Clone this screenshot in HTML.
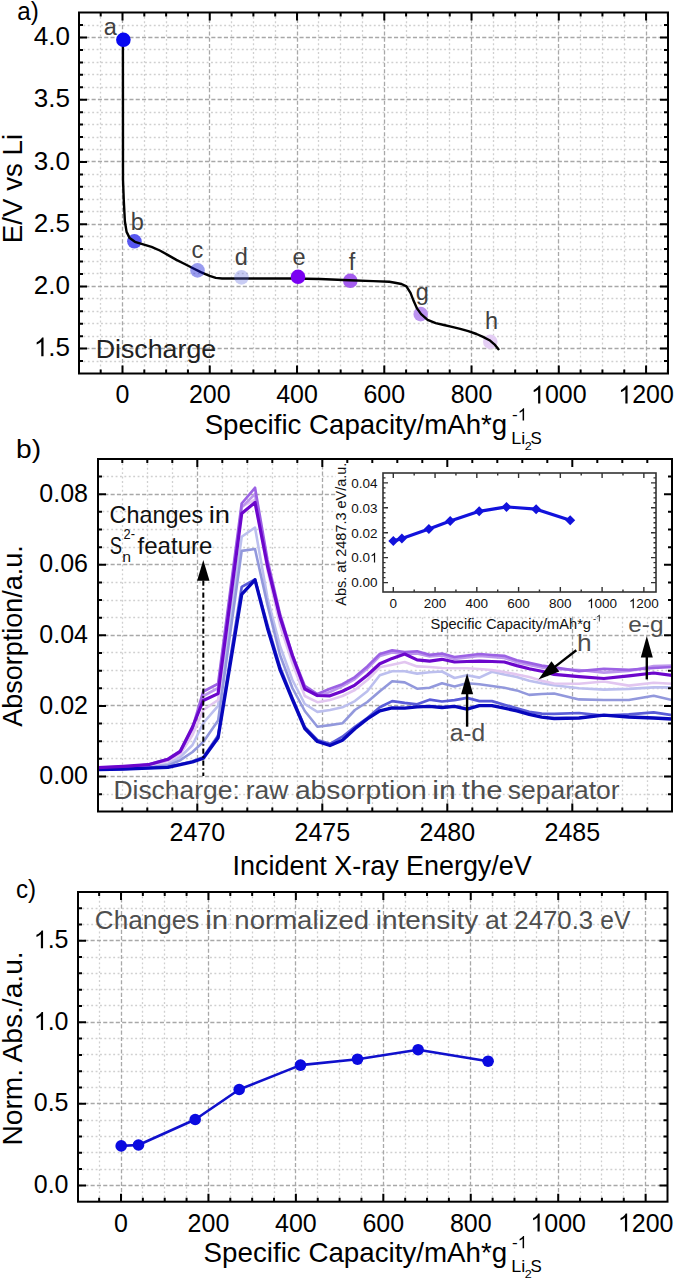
<!DOCTYPE html>
<html><head><meta charset="utf-8"><style>
html,body{margin:0;padding:0;background:#fff;}
svg{display:block;}
text{font-family:"Liberation Sans", sans-serif;}
</style></head><body>
<svg width="675" height="1280" viewBox="0 0 675 1280">
<rect width="675" height="1280" fill="#fff"/>
<line x1="100.5" y1="12.5" x2="100.5" y2="373.5" stroke="#d0d0d0" stroke-width="1.3" stroke-dasharray="1.9 2.5"/>
<line x1="144.5" y1="12.5" x2="144.5" y2="373.5" stroke="#d0d0d0" stroke-width="1.3" stroke-dasharray="1.9 2.5"/>
<line x1="166.5" y1="12.5" x2="166.5" y2="373.5" stroke="#d0d0d0" stroke-width="1.3" stroke-dasharray="1.9 2.5"/>
<line x1="187.5" y1="12.5" x2="187.5" y2="373.5" stroke="#d0d0d0" stroke-width="1.3" stroke-dasharray="1.9 2.5"/>
<line x1="231.5" y1="12.5" x2="231.5" y2="373.5" stroke="#d0d0d0" stroke-width="1.3" stroke-dasharray="1.9 2.5"/>
<line x1="253.5" y1="12.5" x2="253.5" y2="373.5" stroke="#d0d0d0" stroke-width="1.3" stroke-dasharray="1.9 2.5"/>
<line x1="275.5" y1="12.5" x2="275.5" y2="373.5" stroke="#d0d0d0" stroke-width="1.3" stroke-dasharray="1.9 2.5"/>
<line x1="318.5" y1="12.5" x2="318.5" y2="373.5" stroke="#d0d0d0" stroke-width="1.3" stroke-dasharray="1.9 2.5"/>
<line x1="340.5" y1="12.5" x2="340.5" y2="373.5" stroke="#d0d0d0" stroke-width="1.3" stroke-dasharray="1.9 2.5"/>
<line x1="362.5" y1="12.5" x2="362.5" y2="373.5" stroke="#d0d0d0" stroke-width="1.3" stroke-dasharray="1.9 2.5"/>
<line x1="406.5" y1="12.5" x2="406.5" y2="373.5" stroke="#d0d0d0" stroke-width="1.3" stroke-dasharray="1.9 2.5"/>
<line x1="427.5" y1="12.5" x2="427.5" y2="373.5" stroke="#d0d0d0" stroke-width="1.3" stroke-dasharray="1.9 2.5"/>
<line x1="449.5" y1="12.5" x2="449.5" y2="373.5" stroke="#d0d0d0" stroke-width="1.3" stroke-dasharray="1.9 2.5"/>
<line x1="493.5" y1="12.5" x2="493.5" y2="373.5" stroke="#d0d0d0" stroke-width="1.3" stroke-dasharray="1.9 2.5"/>
<line x1="515.5" y1="12.5" x2="515.5" y2="373.5" stroke="#d0d0d0" stroke-width="1.3" stroke-dasharray="1.9 2.5"/>
<line x1="536.5" y1="12.5" x2="536.5" y2="373.5" stroke="#d0d0d0" stroke-width="1.3" stroke-dasharray="1.9 2.5"/>
<line x1="580.5" y1="12.5" x2="580.5" y2="373.5" stroke="#d0d0d0" stroke-width="1.3" stroke-dasharray="1.9 2.5"/>
<line x1="602.5" y1="12.5" x2="602.5" y2="373.5" stroke="#d0d0d0" stroke-width="1.3" stroke-dasharray="1.9 2.5"/>
<line x1="624.5" y1="12.5" x2="624.5" y2="373.5" stroke="#d0d0d0" stroke-width="1.3" stroke-dasharray="1.9 2.5"/>
<line x1="79" y1="361.5" x2="668" y2="361.5" stroke="#d0d0d0" stroke-width="1.3" stroke-dasharray="1.9 2.5"/>
<line x1="79" y1="336.5" x2="668" y2="336.5" stroke="#d0d0d0" stroke-width="1.3" stroke-dasharray="1.9 2.5"/>
<line x1="79" y1="323.5" x2="668" y2="323.5" stroke="#d0d0d0" stroke-width="1.3" stroke-dasharray="1.9 2.5"/>
<line x1="79" y1="311.5" x2="668" y2="311.5" stroke="#d0d0d0" stroke-width="1.3" stroke-dasharray="1.9 2.5"/>
<line x1="79" y1="298.5" x2="668" y2="298.5" stroke="#d0d0d0" stroke-width="1.3" stroke-dasharray="1.9 2.5"/>
<line x1="79" y1="273.5" x2="668" y2="273.5" stroke="#d0d0d0" stroke-width="1.3" stroke-dasharray="1.9 2.5"/>
<line x1="79" y1="261.5" x2="668" y2="261.5" stroke="#d0d0d0" stroke-width="1.3" stroke-dasharray="1.9 2.5"/>
<line x1="79" y1="249.5" x2="668" y2="249.5" stroke="#d0d0d0" stroke-width="1.3" stroke-dasharray="1.9 2.5"/>
<line x1="79" y1="236.5" x2="668" y2="236.5" stroke="#d0d0d0" stroke-width="1.3" stroke-dasharray="1.9 2.5"/>
<line x1="79" y1="211.5" x2="668" y2="211.5" stroke="#d0d0d0" stroke-width="1.3" stroke-dasharray="1.9 2.5"/>
<line x1="79" y1="199.5" x2="668" y2="199.5" stroke="#d0d0d0" stroke-width="1.3" stroke-dasharray="1.9 2.5"/>
<line x1="79" y1="186.5" x2="668" y2="186.5" stroke="#d0d0d0" stroke-width="1.3" stroke-dasharray="1.9 2.5"/>
<line x1="79" y1="174.5" x2="668" y2="174.5" stroke="#d0d0d0" stroke-width="1.3" stroke-dasharray="1.9 2.5"/>
<line x1="79" y1="149.5" x2="668" y2="149.5" stroke="#d0d0d0" stroke-width="1.3" stroke-dasharray="1.9 2.5"/>
<line x1="79" y1="137.5" x2="668" y2="137.5" stroke="#d0d0d0" stroke-width="1.3" stroke-dasharray="1.9 2.5"/>
<line x1="79" y1="124.5" x2="668" y2="124.5" stroke="#d0d0d0" stroke-width="1.3" stroke-dasharray="1.9 2.5"/>
<line x1="79" y1="112.5" x2="668" y2="112.5" stroke="#d0d0d0" stroke-width="1.3" stroke-dasharray="1.9 2.5"/>
<line x1="79" y1="87.5" x2="668" y2="87.5" stroke="#d0d0d0" stroke-width="1.3" stroke-dasharray="1.9 2.5"/>
<line x1="79" y1="74.5" x2="668" y2="74.5" stroke="#d0d0d0" stroke-width="1.3" stroke-dasharray="1.9 2.5"/>
<line x1="79" y1="62.5" x2="668" y2="62.5" stroke="#d0d0d0" stroke-width="1.3" stroke-dasharray="1.9 2.5"/>
<line x1="79" y1="49.5" x2="668" y2="49.5" stroke="#d0d0d0" stroke-width="1.3" stroke-dasharray="1.9 2.5"/>
<line x1="79" y1="25.5" x2="668" y2="25.5" stroke="#d0d0d0" stroke-width="1.3" stroke-dasharray="1.9 2.5"/>
<line x1="122.5" y1="12.5" x2="122.5" y2="373.5" stroke="#a8a8a8" stroke-width="1.3" stroke-dasharray="4.1 2.2"/>
<line x1="209.5" y1="12.5" x2="209.5" y2="373.5" stroke="#a8a8a8" stroke-width="1.3" stroke-dasharray="4.1 2.2"/>
<line x1="297.5" y1="12.5" x2="297.5" y2="373.5" stroke="#a8a8a8" stroke-width="1.3" stroke-dasharray="4.1 2.2"/>
<line x1="384.5" y1="12.5" x2="384.5" y2="373.5" stroke="#a8a8a8" stroke-width="1.3" stroke-dasharray="4.1 2.2"/>
<line x1="471.5" y1="12.5" x2="471.5" y2="373.5" stroke="#a8a8a8" stroke-width="1.3" stroke-dasharray="4.1 2.2"/>
<line x1="558.5" y1="12.5" x2="558.5" y2="373.5" stroke="#a8a8a8" stroke-width="1.3" stroke-dasharray="4.1 2.2"/>
<line x1="646.5" y1="12.5" x2="646.5" y2="373.5" stroke="#a8a8a8" stroke-width="1.3" stroke-dasharray="4.1 2.2"/>
<line x1="79" y1="348.5" x2="668" y2="348.5" stroke="#a8a8a8" stroke-width="1.3" stroke-dasharray="4.1 2.2"/>
<line x1="79" y1="286.5" x2="668" y2="286.5" stroke="#a8a8a8" stroke-width="1.3" stroke-dasharray="4.1 2.2"/>
<line x1="79" y1="224.5" x2="668" y2="224.5" stroke="#a8a8a8" stroke-width="1.3" stroke-dasharray="4.1 2.2"/>
<line x1="79" y1="161.5" x2="668" y2="161.5" stroke="#a8a8a8" stroke-width="1.3" stroke-dasharray="4.1 2.2"/>
<line x1="79" y1="99.5" x2="668" y2="99.5" stroke="#a8a8a8" stroke-width="1.3" stroke-dasharray="4.1 2.2"/>
<line x1="79" y1="37.5" x2="668" y2="37.5" stroke="#a8a8a8" stroke-width="1.3" stroke-dasharray="4.1 2.2"/>
<line x1="122.5" y1="459" x2="122.5" y2="811.5" stroke="#d0d0d0" stroke-width="1.3" stroke-dasharray="1.9 2.5"/>
<line x1="147.5" y1="459" x2="147.5" y2="811.5" stroke="#d0d0d0" stroke-width="1.3" stroke-dasharray="1.9 2.5"/>
<line x1="172.5" y1="459" x2="172.5" y2="811.5" stroke="#d0d0d0" stroke-width="1.3" stroke-dasharray="1.9 2.5"/>
<line x1="222.5" y1="459" x2="222.5" y2="811.5" stroke="#d0d0d0" stroke-width="1.3" stroke-dasharray="1.9 2.5"/>
<line x1="247.5" y1="459" x2="247.5" y2="811.5" stroke="#d0d0d0" stroke-width="1.3" stroke-dasharray="1.9 2.5"/>
<line x1="272.5" y1="459" x2="272.5" y2="811.5" stroke="#d0d0d0" stroke-width="1.3" stroke-dasharray="1.9 2.5"/>
<line x1="297.5" y1="459" x2="297.5" y2="811.5" stroke="#d0d0d0" stroke-width="1.3" stroke-dasharray="1.9 2.5"/>
<line x1="347.5" y1="459" x2="347.5" y2="811.5" stroke="#d0d0d0" stroke-width="1.3" stroke-dasharray="1.9 2.5"/>
<line x1="372.5" y1="459" x2="372.5" y2="811.5" stroke="#d0d0d0" stroke-width="1.3" stroke-dasharray="1.9 2.5"/>
<line x1="397.5" y1="459" x2="397.5" y2="811.5" stroke="#d0d0d0" stroke-width="1.3" stroke-dasharray="1.9 2.5"/>
<line x1="422.5" y1="459" x2="422.5" y2="811.5" stroke="#d0d0d0" stroke-width="1.3" stroke-dasharray="1.9 2.5"/>
<line x1="472.5" y1="459" x2="472.5" y2="811.5" stroke="#d0d0d0" stroke-width="1.3" stroke-dasharray="1.9 2.5"/>
<line x1="497.5" y1="459" x2="497.5" y2="811.5" stroke="#d0d0d0" stroke-width="1.3" stroke-dasharray="1.9 2.5"/>
<line x1="522.5" y1="459" x2="522.5" y2="811.5" stroke="#d0d0d0" stroke-width="1.3" stroke-dasharray="1.9 2.5"/>
<line x1="547.5" y1="459" x2="547.5" y2="811.5" stroke="#d0d0d0" stroke-width="1.3" stroke-dasharray="1.9 2.5"/>
<line x1="597.5" y1="459" x2="597.5" y2="811.5" stroke="#d0d0d0" stroke-width="1.3" stroke-dasharray="1.9 2.5"/>
<line x1="622.5" y1="459" x2="622.5" y2="811.5" stroke="#d0d0d0" stroke-width="1.3" stroke-dasharray="1.9 2.5"/>
<line x1="647.5" y1="459" x2="647.5" y2="811.5" stroke="#d0d0d0" stroke-width="1.3" stroke-dasharray="1.9 2.5"/>
<line x1="98" y1="794.5" x2="672" y2="794.5" stroke="#d0d0d0" stroke-width="1.3" stroke-dasharray="1.9 2.5"/>
<line x1="98" y1="758.5" x2="672" y2="758.5" stroke="#d0d0d0" stroke-width="1.3" stroke-dasharray="1.9 2.5"/>
<line x1="98" y1="741.5" x2="672" y2="741.5" stroke="#d0d0d0" stroke-width="1.3" stroke-dasharray="1.9 2.5"/>
<line x1="98" y1="723.5" x2="672" y2="723.5" stroke="#d0d0d0" stroke-width="1.3" stroke-dasharray="1.9 2.5"/>
<line x1="98" y1="688.5" x2="672" y2="688.5" stroke="#d0d0d0" stroke-width="1.3" stroke-dasharray="1.9 2.5"/>
<line x1="98" y1="670.5" x2="672" y2="670.5" stroke="#d0d0d0" stroke-width="1.3" stroke-dasharray="1.9 2.5"/>
<line x1="98" y1="652.5" x2="672" y2="652.5" stroke="#d0d0d0" stroke-width="1.3" stroke-dasharray="1.9 2.5"/>
<line x1="98" y1="617.5" x2="672" y2="617.5" stroke="#d0d0d0" stroke-width="1.3" stroke-dasharray="1.9 2.5"/>
<line x1="98" y1="600.5" x2="672" y2="600.5" stroke="#d0d0d0" stroke-width="1.3" stroke-dasharray="1.9 2.5"/>
<line x1="98" y1="582.5" x2="672" y2="582.5" stroke="#d0d0d0" stroke-width="1.3" stroke-dasharray="1.9 2.5"/>
<line x1="98" y1="547.5" x2="672" y2="547.5" stroke="#d0d0d0" stroke-width="1.3" stroke-dasharray="1.9 2.5"/>
<line x1="98" y1="529.5" x2="672" y2="529.5" stroke="#d0d0d0" stroke-width="1.3" stroke-dasharray="1.9 2.5"/>
<line x1="98" y1="511.5" x2="672" y2="511.5" stroke="#d0d0d0" stroke-width="1.3" stroke-dasharray="1.9 2.5"/>
<line x1="98" y1="476.5" x2="672" y2="476.5" stroke="#d0d0d0" stroke-width="1.3" stroke-dasharray="1.9 2.5"/>
<line x1="197.5" y1="459" x2="197.5" y2="811.5" stroke="#a8a8a8" stroke-width="1.3" stroke-dasharray="4.1 2.2"/>
<line x1="322.5" y1="459" x2="322.5" y2="811.5" stroke="#a8a8a8" stroke-width="1.3" stroke-dasharray="4.1 2.2"/>
<line x1="447.5" y1="459" x2="447.5" y2="811.5" stroke="#a8a8a8" stroke-width="1.3" stroke-dasharray="4.1 2.2"/>
<line x1="572.5" y1="459" x2="572.5" y2="811.5" stroke="#a8a8a8" stroke-width="1.3" stroke-dasharray="4.1 2.2"/>
<line x1="98" y1="776.5" x2="672" y2="776.5" stroke="#a8a8a8" stroke-width="1.3" stroke-dasharray="4.1 2.2"/>
<line x1="98" y1="705.5" x2="672" y2="705.5" stroke="#a8a8a8" stroke-width="1.3" stroke-dasharray="4.1 2.2"/>
<line x1="98" y1="635.5" x2="672" y2="635.5" stroke="#a8a8a8" stroke-width="1.3" stroke-dasharray="4.1 2.2"/>
<line x1="98" y1="564.5" x2="672" y2="564.5" stroke="#a8a8a8" stroke-width="1.3" stroke-dasharray="4.1 2.2"/>
<line x1="98" y1="494.5" x2="672" y2="494.5" stroke="#a8a8a8" stroke-width="1.3" stroke-dasharray="4.1 2.2"/>
<line x1="99.5" y1="892" x2="99.5" y2="1201.7" stroke="#d0d0d0" stroke-width="1.3" stroke-dasharray="1.9 2.5"/>
<line x1="142.5" y1="892" x2="142.5" y2="1201.7" stroke="#d0d0d0" stroke-width="1.3" stroke-dasharray="1.9 2.5"/>
<line x1="164.5" y1="892" x2="164.5" y2="1201.7" stroke="#d0d0d0" stroke-width="1.3" stroke-dasharray="1.9 2.5"/>
<line x1="186.5" y1="892" x2="186.5" y2="1201.7" stroke="#d0d0d0" stroke-width="1.3" stroke-dasharray="1.9 2.5"/>
<line x1="230.5" y1="892" x2="230.5" y2="1201.7" stroke="#d0d0d0" stroke-width="1.3" stroke-dasharray="1.9 2.5"/>
<line x1="252.5" y1="892" x2="252.5" y2="1201.7" stroke="#d0d0d0" stroke-width="1.3" stroke-dasharray="1.9 2.5"/>
<line x1="274.5" y1="892" x2="274.5" y2="1201.7" stroke="#d0d0d0" stroke-width="1.3" stroke-dasharray="1.9 2.5"/>
<line x1="317.5" y1="892" x2="317.5" y2="1201.7" stroke="#d0d0d0" stroke-width="1.3" stroke-dasharray="1.9 2.5"/>
<line x1="339.5" y1="892" x2="339.5" y2="1201.7" stroke="#d0d0d0" stroke-width="1.3" stroke-dasharray="1.9 2.5"/>
<line x1="361.5" y1="892" x2="361.5" y2="1201.7" stroke="#d0d0d0" stroke-width="1.3" stroke-dasharray="1.9 2.5"/>
<line x1="405.5" y1="892" x2="405.5" y2="1201.7" stroke="#d0d0d0" stroke-width="1.3" stroke-dasharray="1.9 2.5"/>
<line x1="427.5" y1="892" x2="427.5" y2="1201.7" stroke="#d0d0d0" stroke-width="1.3" stroke-dasharray="1.9 2.5"/>
<line x1="448.5" y1="892" x2="448.5" y2="1201.7" stroke="#d0d0d0" stroke-width="1.3" stroke-dasharray="1.9 2.5"/>
<line x1="492.5" y1="892" x2="492.5" y2="1201.7" stroke="#d0d0d0" stroke-width="1.3" stroke-dasharray="1.9 2.5"/>
<line x1="514.5" y1="892" x2="514.5" y2="1201.7" stroke="#d0d0d0" stroke-width="1.3" stroke-dasharray="1.9 2.5"/>
<line x1="536.5" y1="892" x2="536.5" y2="1201.7" stroke="#d0d0d0" stroke-width="1.3" stroke-dasharray="1.9 2.5"/>
<line x1="580.5" y1="892" x2="580.5" y2="1201.7" stroke="#d0d0d0" stroke-width="1.3" stroke-dasharray="1.9 2.5"/>
<line x1="601.5" y1="892" x2="601.5" y2="1201.7" stroke="#d0d0d0" stroke-width="1.3" stroke-dasharray="1.9 2.5"/>
<line x1="623.5" y1="892" x2="623.5" y2="1201.7" stroke="#d0d0d0" stroke-width="1.3" stroke-dasharray="1.9 2.5"/>
<line x1="78" y1="1169.5" x2="667.5" y2="1169.5" stroke="#d0d0d0" stroke-width="1.3" stroke-dasharray="1.9 2.5"/>
<line x1="78" y1="1152.5" x2="667.5" y2="1152.5" stroke="#d0d0d0" stroke-width="1.3" stroke-dasharray="1.9 2.5"/>
<line x1="78" y1="1136.5" x2="667.5" y2="1136.5" stroke="#d0d0d0" stroke-width="1.3" stroke-dasharray="1.9 2.5"/>
<line x1="78" y1="1120.5" x2="667.5" y2="1120.5" stroke="#d0d0d0" stroke-width="1.3" stroke-dasharray="1.9 2.5"/>
<line x1="78" y1="1087.5" x2="667.5" y2="1087.5" stroke="#d0d0d0" stroke-width="1.3" stroke-dasharray="1.9 2.5"/>
<line x1="78" y1="1071.5" x2="667.5" y2="1071.5" stroke="#d0d0d0" stroke-width="1.3" stroke-dasharray="1.9 2.5"/>
<line x1="78" y1="1054.5" x2="667.5" y2="1054.5" stroke="#d0d0d0" stroke-width="1.3" stroke-dasharray="1.9 2.5"/>
<line x1="78" y1="1038.5" x2="667.5" y2="1038.5" stroke="#d0d0d0" stroke-width="1.3" stroke-dasharray="1.9 2.5"/>
<line x1="78" y1="1005.5" x2="667.5" y2="1005.5" stroke="#d0d0d0" stroke-width="1.3" stroke-dasharray="1.9 2.5"/>
<line x1="78" y1="989.5" x2="667.5" y2="989.5" stroke="#d0d0d0" stroke-width="1.3" stroke-dasharray="1.9 2.5"/>
<line x1="78" y1="973.5" x2="667.5" y2="973.5" stroke="#d0d0d0" stroke-width="1.3" stroke-dasharray="1.9 2.5"/>
<line x1="78" y1="957.5" x2="667.5" y2="957.5" stroke="#d0d0d0" stroke-width="1.3" stroke-dasharray="1.9 2.5"/>
<line x1="78" y1="924.5" x2="667.5" y2="924.5" stroke="#d0d0d0" stroke-width="1.3" stroke-dasharray="1.9 2.5"/>
<line x1="78" y1="908.5" x2="667.5" y2="908.5" stroke="#d0d0d0" stroke-width="1.3" stroke-dasharray="1.9 2.5"/>
<line x1="121.5" y1="892" x2="121.5" y2="1201.7" stroke="#a8a8a8" stroke-width="1.3" stroke-dasharray="4.1 2.2"/>
<line x1="208.5" y1="892" x2="208.5" y2="1201.7" stroke="#a8a8a8" stroke-width="1.3" stroke-dasharray="4.1 2.2"/>
<line x1="295.5" y1="892" x2="295.5" y2="1201.7" stroke="#a8a8a8" stroke-width="1.3" stroke-dasharray="4.1 2.2"/>
<line x1="383.5" y1="892" x2="383.5" y2="1201.7" stroke="#a8a8a8" stroke-width="1.3" stroke-dasharray="4.1 2.2"/>
<line x1="470.5" y1="892" x2="470.5" y2="1201.7" stroke="#a8a8a8" stroke-width="1.3" stroke-dasharray="4.1 2.2"/>
<line x1="558.5" y1="892" x2="558.5" y2="1201.7" stroke="#a8a8a8" stroke-width="1.3" stroke-dasharray="4.1 2.2"/>
<line x1="645.5" y1="892" x2="645.5" y2="1201.7" stroke="#a8a8a8" stroke-width="1.3" stroke-dasharray="4.1 2.2"/>
<line x1="78" y1="1185.5" x2="667.5" y2="1185.5" stroke="#a8a8a8" stroke-width="1.3" stroke-dasharray="4.1 2.2"/>
<line x1="78" y1="1103.5" x2="667.5" y2="1103.5" stroke="#a8a8a8" stroke-width="1.3" stroke-dasharray="4.1 2.2"/>
<line x1="78" y1="1022.5" x2="667.5" y2="1022.5" stroke="#a8a8a8" stroke-width="1.3" stroke-dasharray="4.1 2.2"/>
<line x1="78" y1="940.5" x2="667.5" y2="940.5" stroke="#a8a8a8" stroke-width="1.3" stroke-dasharray="4.1 2.2"/>
<circle cx="134.4" cy="241.3" r="7.3" fill="#5858f0"/>
<circle cx="350.3" cy="280.8" r="7.3" fill="#a45cee"/>
<circle cx="420.7" cy="314.1" r="7.3" fill="#bc94f0"/>
<circle cx="490.3" cy="341.8" r="7.3" fill="#e4cef4"/>
<polyline points="122.9,39.8 123,180 123.8,200.7 124.9,221.5 126.6,231.9 129.7,238.1 134.9,241.8 143.2,244.3 151.5,246.8 159.8,250.5 168.1,255.1 176.4,259.9 184.7,264 193,268.2 201.3,272.3 209.6,275.8 215.8,277.9 222,278.5 250,278.5 293.3,278.5 320,279 349.3,280.3 373.3,281.1 389.3,281.7 395,282.7 401.5,284 406.4,286.4 410.5,292.9 413.7,301.1 417,308.4 421.1,314.1 427.6,319.8 435.7,323.1 443.9,325 452,326.8 460.2,328.8 468.3,331.2 476.5,334 483,336.9 489.5,340.2 494.4,344.3 498.5,349.2" fill="none" stroke="#000" stroke-width="2.4" stroke-linejoin="round" stroke-linecap="round"/>
<circle cx="123.4" cy="39.8" r="7.3" fill="#0808f0" fill-opacity="1.0"/>
<circle cx="197.5" cy="270.4" r="7.3" fill="#0a10d8" fill-opacity="0.42"/>
<circle cx="241.5" cy="277.4" r="7.3" fill="#616ddf" fill-opacity="0.35"/>
<circle cx="298" cy="276.8" r="7.3" fill="#7a00f2" fill-opacity="1.0"/>
<text x="110.3" y="35.3" font-size="23.5" fill="#404040" text-anchor="middle">a</text>
<text x="137.4" y="229.9" font-size="23.5" fill="#404040" text-anchor="middle">b</text>
<text x="197.4" y="258.3" font-size="23.5" fill="#404040" text-anchor="middle">c</text>
<text x="241.3" y="264.9" font-size="23.5" fill="#404040" text-anchor="middle">d</text>
<text x="299" y="265" font-size="23.5" fill="#404040" text-anchor="middle">e</text>
<text x="352" y="270.3" font-size="23.5" fill="#404040" text-anchor="middle">f</text>
<text x="422.3" y="300.3" font-size="23.5" fill="#404040" text-anchor="middle">g</text>
<text x="491.6" y="328.8" font-size="23.5" fill="#404040" text-anchor="middle">h</text>
<text x="95.7" y="357.9" font-size="25" fill="#222" textLength="120.48" lengthAdjust="spacingAndGlyphs">Discharge</text>
<polyline points="121.2,1145.9 138.5,1145 195.2,1119.5 239.2,1089.5 300.5,1065.1 357.5,1059.2 418.1,1049.7 488.1,1061.2" fill="none" stroke="#1010cc" stroke-width="2.6" stroke-linejoin="round" stroke-linecap="round"/>
<circle cx="121.2" cy="1145.9" r="5.8" fill="#0a0ae0"/>
<circle cx="138.5" cy="1145" r="5.8" fill="#0a0ae0"/>
<circle cx="195.2" cy="1119.5" r="5.8" fill="#0a0ae0"/>
<circle cx="239.2" cy="1089.5" r="5.8" fill="#0a0ae0"/>
<circle cx="300.5" cy="1065.1" r="5.8" fill="#0a0ae0"/>
<circle cx="357.5" cy="1059.2" r="5.8" fill="#0a0ae0"/>
<circle cx="418.1" cy="1049.7" r="5.8" fill="#0a0ae0"/>
<circle cx="488.1" cy="1061.2" r="5.8" fill="#0a0ae0"/>
<text x="94.77" y="928.7" font-size="26" fill="#4e4e4e" textLength="104.57" lengthAdjust="spacingAndGlyphs">Changes</text>
<text x="205.32" y="928.7" font-size="26" fill="#4e4e4e" textLength="23" lengthAdjust="spacingAndGlyphs">in</text>
<text x="234.37" y="928.7" font-size="26" fill="#4e4e4e" textLength="134.7" lengthAdjust="spacingAndGlyphs">normalized</text>
<text x="375.73" y="928.7" font-size="26" fill="#4e4e4e" textLength="102.52" lengthAdjust="spacingAndGlyphs">intensity</text>
<text x="485.07" y="928.7" font-size="26" fill="#4e4e4e" textLength="22.23" lengthAdjust="spacingAndGlyphs">at</text>
<text x="514.3" y="928.7" font-size="26" fill="#4e4e4e" textLength="78.83" lengthAdjust="spacingAndGlyphs">2470.3</text>
<text x="600.26" y="928.7" font-size="26" fill="#4e4e4e" textLength="30.05" lengthAdjust="spacingAndGlyphs">eV</text>
<path transform="translate(33.86,356.3) scale(0.01270,-0.01270)" d="M763 0L583 0L583 1147Q518 1085 412 1023Q306 961 221 930L221 1104Q372 1175 485 1276Q598 1377 645 1472L763 1472Z" fill="#000"/>
<text x="48.32" y="356.3" font-size="26" fill="#000">.5</text>
<text x="70" y="294.08" font-size="26" fill="#000" text-anchor="end">2.0</text>
<text x="70" y="231.86" font-size="26" fill="#000" text-anchor="end">2.5</text>
<text x="70" y="169.64" font-size="26" fill="#000" text-anchor="end">3.0</text>
<text x="70" y="107.42" font-size="26" fill="#000" text-anchor="end">3.5</text>
<text x="70" y="45.2" font-size="26" fill="#000" text-anchor="end">4.0</text>
<text x="122.5" y="403.4" font-size="25" fill="#000" text-anchor="middle">0</text>
<text x="209.76" y="403.4" font-size="25" fill="#000" text-anchor="middle">200</text>
<text x="297.02" y="403.4" font-size="25" fill="#000" text-anchor="middle">400</text>
<text x="384.28" y="403.4" font-size="25" fill="#000" text-anchor="middle">600</text>
<text x="471.54" y="403.4" font-size="25" fill="#000" text-anchor="middle">800</text>
<path transform="translate(530.99,403.4) scale(0.01221,-0.01221)" d="M763 0L583 0L583 1147Q518 1085 412 1023Q306 961 221 930L221 1104Q372 1175 485 1276Q598 1377 645 1472L763 1472Z" fill="#000"/>
<text x="544.9" y="403.4" font-size="25" fill="#000">000</text>
<path transform="translate(618.25,403.4) scale(0.01221,-0.01221)" d="M763 0L583 0L583 1147Q518 1085 412 1023Q306 961 221 930L221 1104Q372 1175 485 1276Q598 1377 645 1472L763 1472Z" fill="#000"/>
<text x="632.16" y="403.4" font-size="25" fill="#000">200</text>
<text x="88" y="784.1" font-size="25" fill="#000" text-anchor="end">0.00</text>
<text x="88" y="713.52" font-size="25" fill="#000" text-anchor="end">0.02</text>
<text x="88" y="642.95" font-size="25" fill="#000" text-anchor="end">0.04</text>
<text x="88" y="572.38" font-size="25" fill="#000" text-anchor="end">0.06</text>
<text x="88" y="501.8" font-size="25" fill="#000" text-anchor="end">0.08</text>
<text x="197.3" y="841" font-size="25" fill="#000" text-anchor="middle">2470</text>
<text x="322.3" y="841" font-size="25" fill="#000" text-anchor="middle">2475</text>
<text x="447.3" y="841" font-size="25" fill="#000" text-anchor="middle">2480</text>
<text x="572.3" y="841" font-size="25" fill="#000" text-anchor="middle">2485</text>
<text x="68.5" y="1193" font-size="25" fill="#000" text-anchor="end">0.0</text>
<text x="68.5" y="1111.45" font-size="25" fill="#000" text-anchor="end">0.5</text>
<path transform="translate(33.75,1029.9) scale(0.01221,-0.01221)" d="M763 0L583 0L583 1147Q518 1085 412 1023Q306 961 221 930L221 1104Q372 1175 485 1276Q598 1377 645 1472L763 1472Z" fill="#000"/>
<text x="47.65" y="1029.9" font-size="25" fill="#000">.0</text>
<path transform="translate(33.75,948.35) scale(0.01221,-0.01221)" d="M763 0L583 0L583 1147Q518 1085 412 1023Q306 961 221 930L221 1104Q372 1175 485 1276Q598 1377 645 1472L763 1472Z" fill="#000"/>
<text x="47.65" y="948.35" font-size="25" fill="#000">.5</text>
<text x="121" y="1231.5" font-size="25" fill="#000" text-anchor="middle">0</text>
<text x="208.44" y="1231.5" font-size="25" fill="#000" text-anchor="middle">200</text>
<text x="295.88" y="1231.5" font-size="25" fill="#000" text-anchor="middle">400</text>
<text x="383.32" y="1231.5" font-size="25" fill="#000" text-anchor="middle">600</text>
<text x="470.76" y="1231.5" font-size="25" fill="#000" text-anchor="middle">800</text>
<path transform="translate(530.39,1231.5) scale(0.01221,-0.01221)" d="M763 0L583 0L583 1147Q518 1085 412 1023Q306 961 221 930L221 1104Q372 1175 485 1276Q598 1377 645 1472L763 1472Z" fill="#000"/>
<text x="544.3" y="1231.5" font-size="25" fill="#000">000</text>
<path transform="translate(617.83,1231.5) scale(0.01221,-0.01221)" d="M763 0L583 0L583 1147Q518 1085 412 1023Q306 961 221 930L221 1104Q372 1175 485 1276Q598 1377 645 1472L763 1472Z" fill="#000"/>
<text x="631.74" y="1231.5" font-size="25" fill="#000">200</text>
<text x="17.27" y="20" font-size="26" fill="#000" textLength="21.53" lengthAdjust="spacingAndGlyphs">a)</text>
<text x="15.98" y="458.2" font-size="26.5" fill="#000" textLength="25.06" lengthAdjust="spacingAndGlyphs">b)</text>
<text x="15.97" y="897.8" font-size="26" fill="#000" textLength="20.12" lengthAdjust="spacingAndGlyphs">c)</text>
<text transform="translate(21.6,240.9) rotate(-90)" x="-2.27" font-size="28.5" textLength="109.24" lengthAdjust="spacingAndGlyphs">E/V vs Li</text>
<text transform="translate(21.6,726.7) rotate(-90)" x="-0.05" font-size="28.5" textLength="181.42" lengthAdjust="spacingAndGlyphs">Absorption/a.u.</text>
<text transform="translate(21.6,1143.3) rotate(-90)" x="-2.29" font-size="28.5" textLength="194.25" lengthAdjust="spacingAndGlyphs">Norm. Abs./a.u.</text>
<text x="204.65" y="433.8" font-size="27.5" fill="#000" textLength="302.54" lengthAdjust="spacingAndGlyphs">Specific Capacity/mAh*g</text>
<text x="512.1" y="420.4" font-size="17" fill="#000">-</text>
<path transform="translate(517.76,420.4) scale(0.00830,-0.00830)" d="M763 0L583 0L583 1147Q518 1085 412 1023Q306 961 221 930L221 1104Q372 1175 485 1276Q598 1377 645 1472L763 1472Z" fill="#000"/>
<text x="511.23" y="443.9" font-size="16.5" fill="#000" textLength="13.98" lengthAdjust="spacingAndGlyphs">Li</text>
<text x="524.77" y="449.5" font-size="11" fill="#000" textLength="6.96" lengthAdjust="spacingAndGlyphs">2</text>
<text x="530.63" y="443.9" font-size="16.5" fill="#000" textLength="11.24" lengthAdjust="spacingAndGlyphs">S</text>
<text x="203.64" y="1262.2" font-size="27.5" fill="#000" textLength="303.55" lengthAdjust="spacingAndGlyphs">Specific Capacity/mAh*g</text>
<text x="512.1" y="1248.2" font-size="17" fill="#000">-</text>
<path transform="translate(517.76,1248.2) scale(0.00830,-0.00830)" d="M763 0L583 0L583 1147Q518 1085 412 1023Q306 961 221 930L221 1104Q372 1175 485 1276Q598 1377 645 1472L763 1472Z" fill="#000"/>
<text x="511.23" y="1271.5" font-size="16.5" fill="#000" textLength="13.98" lengthAdjust="spacingAndGlyphs">Li</text>
<text x="524.77" y="1277.6" font-size="11" fill="#000" textLength="6.96" lengthAdjust="spacingAndGlyphs">2</text>
<text x="530.63" y="1271.5" font-size="16.5" fill="#000" textLength="11.24" lengthAdjust="spacingAndGlyphs">S</text>
<text x="232.62" y="875.4" font-size="27" fill="#000" textLength="299.1" lengthAdjust="spacingAndGlyphs">Incident X-ray Energy/eV</text>
<g clip-path="url(#clipB)">
<polyline points="98,768.5 123.4,767.8 148.3,766.5 167.9,764 180.3,757 192.5,745 203.3,723 218.1,705.8 241.7,536.7 255,527.5 267.5,598 280,646 292.4,680 304.8,704 317.4,711.9 330,710 342.4,707.3 354.9,701.1 367.3,691.3 379.8,675.3 392.2,671.2 404.7,671.2 417.1,673.6 429.6,672.3 442,671.5 454.5,678 467,675.3 479.4,677.6 491.9,671.8 504.3,674.4 516.8,677.1 529.2,680.7 541.7,683.3 554.1,685.3 579,688.3 603.9,689.6 628.8,688.9 653.7,687.4 672,687.4" fill="none" stroke="#bcbfee" stroke-width="2.6" stroke-linejoin="round" stroke-linecap="round" stroke-linecap="butt"/>
<polyline points="98,768.8 123.4,768.2 148.3,767 167.9,765.6 180.3,760.2 192.5,752 203.3,741.9 218.1,720.6 241.7,550.9 255,549 267.5,605 280,655 292.4,688 304.8,711 317.4,726.7 330,725.1 342.4,723.3 354.9,710 367.3,702 379.8,691.3 392.2,681.2 404.7,682.4 417.1,688.7 429.6,687.8 442,683.2 454.5,686.5 467,683.3 479.4,684.2 491.9,686 504.3,687.8 516.8,690.4 529.2,694.9 541.7,694 554.1,693.5 579,699.4 603.9,700 628.8,700 653.7,695.7 672,700" fill="none" stroke="#9298dc" stroke-width="2.6" stroke-linejoin="round" stroke-linecap="round" stroke-linecap="butt"/>
<polyline points="98,768 123.4,767.5 148.3,765.5 167.9,761 180.3,754 192.5,735 203.3,710 218.1,700 241.7,506.7 255,499.6 267.5,570 280,625 292.4,663 304.8,696 317.4,702.2 330,700 342.4,696 354.9,690 367.3,680 379.8,667.3 392.2,664.7 404.7,662 417.1,666.4 429.6,667 442,668 454.5,668.2 467,668.2 479.4,669 491.9,670 504.3,672 516.8,674.4 529.2,677.1 541.7,680.7 554.1,683.5 579,683.7 603.9,681.5 628.8,685.6 653.7,682.8 672,683.7" fill="none" stroke="#e2c6f0" stroke-width="2.6" stroke-linejoin="round" stroke-linecap="round" stroke-linecap="butt"/>
<polyline points="98,767.6 123.4,767 148.3,765 167.9,760 180.3,752 192.5,729 203.3,696 218.1,688 241.7,507.3 255,494 267.5,565 280,618 292.4,658 304.8,688 317.4,696 330,692 342.4,686 354.9,679 367.3,668.5 379.8,656 392.2,652.5 404.7,654 417.1,653.5 429.6,656.5 442,655.5 454.5,659 467,657.5 479.4,656 491.9,657 504.3,658 516.8,662.2 529.2,665 541.7,667.6 554.1,669 579,670 603.9,672.6 628.8,671 653.7,666.1 672,665.5" fill="none" stroke="#bc96ec" stroke-width="2.6" stroke-linejoin="round" stroke-linecap="round" stroke-linecap="butt"/>
<polyline points="98,767.5 123.4,766.8 148.3,764.5 167.9,759 180.3,751 192.5,728 203.3,691.5 218.1,683.8 241.7,503.5 255,487.8 267.5,560 280,614 292.4,655 304.8,686 317.4,694.1 330,688.7 342.4,684.2 354.9,677.1 367.3,666.4 379.8,654 392.2,650.4 404.7,652.2 417.1,651.3 429.6,654.9 442,653.5 454.5,657 467,655.5 479.4,654 491.9,655 504.3,655.8 516.8,660.2 529.2,662.9 541.7,665.6 554.1,667.3 579,671.1 603.9,668.9 628.8,669.8 653.7,668 672,667" fill="none" stroke="#9c62e4" stroke-width="2.7" stroke-linejoin="round" stroke-linecap="round" stroke-linecap="butt"/>
<polyline points="98,769.3 123.4,768.9 148.3,767.9 167.9,766.9 180.3,764.2 192.5,761.3 203.3,757.2 218.1,735.5 241.7,586.9 255,579.5 267.5,625 280,667 292.4,698 304.8,727 317.4,740 330,743.8 342.4,736.7 354.9,726.9 367.3,718 379.8,707.3 392.2,701.1 404.7,702.9 417.1,704.3 429.6,699.7 442,701.5 454.5,700.2 467,697.9 479.4,701.1 491.9,701.1 504.3,704.7 516.8,708.2 529.2,711.8 541.7,713.6 554.1,713.8 579,713 603.9,715.6 628.8,714.3 653.7,712.4 672,715.2" fill="none" stroke="#5a5cd8" stroke-width="2.7" stroke-linejoin="round" stroke-linecap="round" stroke-linecap="butt"/>
<polyline points="98,769.6 123.4,769.1 148.3,768.2 167.9,767.3 180.3,764.7 192.5,762 203.3,758.3 218.1,737.8 241.7,594.4 255,579.8 267.5,628.2 280,669.6 292.4,699.5 304.8,728.5 317.4,741.5 330,745.5 342.4,740.2 354.9,728.7 367.3,718.9 379.8,710.9 392.2,707.9 404.7,708.2 417.1,706.8 429.6,706.4 442,707.5 454.5,706.4 467,709.1 479.4,705.6 491.9,705.6 504.3,708.2 516.8,710.9 529.2,714.4 541.7,717.1 554.1,718.5 579,718 603.9,715.2 628.8,717 653.7,718 672,719" fill="none" stroke="#0606bc" stroke-width="3.3" stroke-linejoin="round" stroke-linecap="round" stroke-linecap="butt"/>
<polyline points="98,767.7 123.4,766.4 148.3,764.7 167.9,759.3 180.3,751.3 192.5,727 203.3,700.5 218.1,693.6 241.7,513.5 255,502.4 267.5,566 280,617 292.4,655.5 304.8,689 317.4,695.5 330,695.8 342.4,691.3 354.9,685.1 367.3,675.3 379.8,663.8 392.2,658.4 404.7,654 417.1,659.9 429.6,661.1 442,659.3 454.5,662 467,661.5 479.4,661.1 491.9,661.5 504.3,662 516.8,665.6 529.2,668.8 541.7,671.2 554.1,674.4 579,676.7 603.9,678.5 628.8,675.9 653.7,673 672,675.4" fill="none" stroke="#6c06cc" stroke-width="3.2" stroke-linejoin="round" stroke-linecap="round" stroke-linecap="butt"/>
</g>
<defs><clipPath id="clipB"><rect x="98" y="459" width="574" height="352.5"/></clipPath></defs>
<text x="109.61" y="522.5" font-size="24" fill="#111" textLength="93.53" lengthAdjust="spacingAndGlyphs">Changes</text>
<text x="208.77" y="522.5" font-size="24" fill="#111" textLength="21.31" lengthAdjust="spacingAndGlyphs">in</text>
<text x="109.86" y="553.8" font-size="24.5" fill="#111" textLength="12.28" lengthAdjust="spacingAndGlyphs">S</text>
<text x="123.55" y="538.7" font-size="14" fill="#111" textLength="11.42" lengthAdjust="spacingAndGlyphs">2-</text>
<text x="122.25" y="562.2" font-size="14" fill="#111" textLength="8.77" lengthAdjust="spacingAndGlyphs">n</text>
<text x="137.56" y="553.8" font-size="24" fill="#111" textLength="74.91" lengthAdjust="spacingAndGlyphs">feature</text>
<line x1="203.3" y1="580.6" x2="203.3" y2="776" stroke="#000" stroke-width="2" stroke-dasharray="5.1 2.6 1.5 2.8"/>
<path d="M203.3 559.9 L197.1 580.8 L209.5 580.8 Z" fill="#000"/>
<text x="113.43" y="799.3" font-size="26.5" fill="#4e4e4e" textLength="126.38" lengthAdjust="spacingAndGlyphs">Discharge:</text>
<text x="245.74" y="799.3" font-size="26.5" fill="#4e4e4e" textLength="42.59" lengthAdjust="spacingAndGlyphs">raw</text>
<text x="294.9" y="799.3" font-size="26.5" fill="#4e4e4e" textLength="131.93" lengthAdjust="spacingAndGlyphs">absorption</text>
<text x="432.37" y="799.3" font-size="26.5" fill="#4e4e4e" textLength="23.6" lengthAdjust="spacingAndGlyphs">in</text>
<text x="461.76" y="799.3" font-size="26.5" fill="#4e4e4e" textLength="40.85" lengthAdjust="spacingAndGlyphs">the</text>
<text x="507.86" y="799.3" font-size="26.5" fill="#4e4e4e" textLength="111.78" lengthAdjust="spacingAndGlyphs">separator</text>
<line x1="467.1" y1="726.7" x2="467.1" y2="692.3" stroke="#000" stroke-width="2.4"/>
<path d="M467.1 673.3L473.1 694.3L461.1 694.3Z" fill="#000"/>
<line x1="646.8" y1="679.4" x2="646.8" y2="655.4" stroke="#000" stroke-width="2.4"/>
<path d="M646.8 636.1L652.8 657.4L640.8 657.4Z" fill="#000"/>
<line x1="576.3" y1="650.3" x2="553.83" y2="667.67" stroke="#000" stroke-width="2.4"/>
<path d="M538.4 679.6L551.43 661.31L559.39 671.59Z" fill="#000"/>
<text x="449.66" y="740.7" font-size="23" fill="#4e4e4e" textLength="35.53" lengthAdjust="spacingAndGlyphs">a-d</text>
<text x="577.08" y="650.7" font-size="24" fill="#4e4e4e" textLength="14.63" lengthAdjust="spacingAndGlyphs">h</text>
<text x="628.27" y="632.2" font-size="22" fill="#4e4e4e" textLength="35.2" lengthAdjust="spacingAndGlyphs">e-g</text>
<rect x="336" y="460" width="335" height="156" fill="#fff"/>
<polyline points="393.3,540.9 401.9,538.6 428.9,529.1 450.2,521.1 479.2,511.3 506.5,506.9 536.1,509.2 570.2,520.2" fill="none" stroke="#1212dc" stroke-width="3.2" stroke-linejoin="round" stroke-linecap="round"/>
<path d="M393.3 535.9L398.3 540.9L393.3 545.9L388.3 540.9Z" fill="#1212dc"/>
<path d="M401.9 533.6L406.9 538.6L401.9 543.6L396.9 538.6Z" fill="#1212dc"/>
<path d="M428.9 524.1L433.9 529.1L428.9 534.1L423.9 529.1Z" fill="#1212dc"/>
<path d="M450.2 516.1L455.2 521.1L450.2 526.1L445.2 521.1Z" fill="#1212dc"/>
<path d="M479.2 506.3L484.2 511.3L479.2 516.3L474.2 511.3Z" fill="#1212dc"/>
<path d="M506.5 501.9L511.5 506.9L506.5 511.9L501.5 506.9Z" fill="#1212dc"/>
<path d="M536.1 504.2L541.1 509.2L536.1 514.2L531.1 509.2Z" fill="#1212dc"/>
<path d="M570.2 515.2L575.2 520.2L570.2 525.2L565.2 520.2Z" fill="#1212dc"/>
<path d="M393.3 592v-5M393.3 473v5M435.06 592v-5M435.06 473v5M476.82 592v-5M476.82 473v5M518.58 592v-5M518.58 473v5M560.34 592v-5M560.34 473v5M602.1 592v-5M602.1 473v5M643.86 592v-5M643.86 473v5M414.18 592v-2.5M414.18 473v2.5M455.94 592v-2.5M455.94 473v2.5M497.7 592v-2.5M497.7 473v2.5M539.46 592v-2.5M539.46 473v2.5M581.22 592v-2.5M581.22 473v2.5M622.98 592v-2.5M622.98 473v2.5M383 582.6h5M656 582.6h-5M383 557.67h5M656 557.67h-5M383 532.74h5M656 532.74h-5M383 507.81h5M656 507.81h-5M383 482.88h5M656 482.88h-5M383 577.61h2.5M656 577.61h-2.5M383 572.63h2.5M656 572.63h-2.5M383 567.64h2.5M656 567.64h-2.5M383 562.66h2.5M656 562.66h-2.5M383 552.68h2.5M656 552.68h-2.5M383 547.7h2.5M656 547.7h-2.5M383 542.71h2.5M656 542.71h-2.5M383 537.73h2.5M656 537.73h-2.5M383 527.75h2.5M656 527.75h-2.5M383 522.77h2.5M656 522.77h-2.5M383 517.78h2.5M656 517.78h-2.5M383 512.8h2.5M656 512.8h-2.5M383 502.82h2.5M656 502.82h-2.5M383 497.84h2.5M656 497.84h-2.5M383 492.85h2.5M656 492.85h-2.5M383 487.87h2.5M656 487.87h-2.5M383 477.89h2.5M656 477.89h-2.5" stroke="#333" stroke-width="1.4" fill="none"/>
<rect x="383" y="473" width="273" height="119" stroke="#333" stroke-width="1.6" fill="none"/>
<text x="377.6" y="587.4" font-size="13.5" fill="#111" text-anchor="end">0.00</text>
<text x="351.33" y="562.47" font-size="13.5" fill="#111">0.0</text>
<path transform="translate(370.09,562.47) scale(0.00659,-0.00659)" d="M763 0L583 0L583 1147Q518 1085 412 1023Q306 961 221 930L221 1104Q372 1175 485 1276Q598 1377 645 1472L763 1472Z" fill="#111"/>
<text x="377.6" y="537.54" font-size="13.5" fill="#111" text-anchor="end">0.02</text>
<text x="377.6" y="512.61" font-size="13.5" fill="#111" text-anchor="end">0.03</text>
<text x="377.6" y="487.68" font-size="13.5" fill="#111" text-anchor="end">0.04</text>
<text x="393.3" y="608.2" font-size="13.5" fill="#111" text-anchor="middle">0</text>
<text x="435.06" y="608.2" font-size="13.5" fill="#111" text-anchor="middle">200</text>
<text x="476.82" y="608.2" font-size="13.5" fill="#111" text-anchor="middle">400</text>
<text x="518.58" y="608.2" font-size="13.5" fill="#111" text-anchor="middle">600</text>
<text x="560.34" y="608.2" font-size="13.5" fill="#111" text-anchor="middle">800</text>
<path transform="translate(587.08,608.2) scale(0.00659,-0.00659)" d="M763 0L583 0L583 1147Q518 1085 412 1023Q306 961 221 930L221 1104Q372 1175 485 1276Q598 1377 645 1472L763 1472Z" fill="#111"/>
<text x="594.59" y="608.2" font-size="13.5" fill="#111">000</text>
<path transform="translate(628.84,608.2) scale(0.00659,-0.00659)" d="M763 0L583 0L583 1147Q518 1085 412 1023Q306 961 221 930L221 1104Q372 1175 485 1276Q598 1377 645 1472L763 1472Z" fill="#111"/>
<text x="636.35" y="608.2" font-size="13.5" fill="#111">200</text>
<text transform="translate(346.3,605.7) rotate(-90)" font-size="14.5" fill="#111" textLength="143" lengthAdjust="spacingAndGlyphs">Abs. at 2487.3 eV/a.u.</text>
<text x="430.5" y="628.5" font-size="14.5" fill="#111" textLength="160.5" lengthAdjust="spacingAndGlyphs">Specific Capacity/mAh*g</text>
<text x="593" y="621.5" font-size="9.5" fill="#111">-</text>
<path transform="translate(596.16,621.5) scale(0.00464,-0.00464)" d="M763 0L583 0L583 1147Q518 1085 412 1023Q306 961 221 930L221 1104Q372 1175 485 1276Q598 1377 645 1472L763 1472Z" fill="#111"/>
<path d="M122.5 373.5v-8M122.5 12.5v8M209.76 373.5v-8M209.76 12.5v8M297.02 373.5v-8M297.02 12.5v8M384.28 373.5v-8M384.28 12.5v8M471.54 373.5v-8M471.54 12.5v8M558.8 373.5v-8M558.8 12.5v8M646.06 373.5v-8M646.06 12.5v8M100.69 373.5v-4M100.69 12.5v4M144.31 373.5v-4M144.31 12.5v4M166.13 373.5v-4M166.13 12.5v4M187.94 373.5v-4M187.94 12.5v4M231.57 373.5v-4M231.57 12.5v4M253.39 373.5v-4M253.39 12.5v4M275.21 373.5v-4M275.21 12.5v4M318.84 373.5v-4M318.84 12.5v4M340.65 373.5v-4M340.65 12.5v4M362.47 373.5v-4M362.47 12.5v4M406.1 373.5v-4M406.1 12.5v4M427.91 373.5v-4M427.91 12.5v4M449.73 373.5v-4M449.73 12.5v4M493.36 373.5v-4M493.36 12.5v4M515.17 373.5v-4M515.17 12.5v4M536.99 373.5v-4M536.99 12.5v4M580.62 373.5v-4M580.62 12.5v4M602.43 373.5v-4M602.43 12.5v4M624.25 373.5v-4M624.25 12.5v4M667.88 373.5v-4M667.88 12.5v4M79 348.6h8M668 348.6h-8M79 286.38h8M668 286.38h-8M79 224.16h8M668 224.16h-8M79 161.94h8M668 161.94h-8M79 99.72h8M668 99.72h-8M79 37.5h8M668 37.5h-8M79 361.04h4M668 361.04h-4M79 336.16h4M668 336.16h-4M79 323.71h4M668 323.71h-4M79 311.27h4M668 311.27h-4M79 298.82h4M668 298.82h-4M79 273.94h4M668 273.94h-4M79 261.49h4M668 261.49h-4M79 249.05h4M668 249.05h-4M79 236.6h4M668 236.6h-4M79 211.72h4M668 211.72h-4M79 199.27h4M668 199.27h-4M79 186.83h4M668 186.83h-4M79 174.38h4M668 174.38h-4M79 149.5h4M668 149.5h-4M79 137.05h4M668 137.05h-4M79 124.61h4M668 124.61h-4M79 112.16h4M668 112.16h-4M79 87.28h4M668 87.28h-4M79 74.83h4M668 74.83h-4M79 62.39h4M668 62.39h-4M79 49.94h4M668 49.94h-4M79 25.06h4M668 25.06h-4" stroke="#000" stroke-width="2.0" fill="none"/>
<rect x="79" y="12.5" width="589" height="361" stroke="#000" stroke-width="2.0" fill="none"/>
<path d="M197.3 811.5v-8M197.3 459v8M322.3 811.5v-8M322.3 459v8M447.3 811.5v-8M447.3 459v8M572.3 811.5v-8M572.3 459v8M122.3 811.5v-4M122.3 459v4M147.3 811.5v-4M147.3 459v4M172.3 811.5v-4M172.3 459v4M222.3 811.5v-4M222.3 459v4M247.3 811.5v-4M247.3 459v4M272.3 811.5v-4M272.3 459v4M297.3 811.5v-4M297.3 459v4M347.3 811.5v-4M347.3 459v4M372.3 811.5v-4M372.3 459v4M397.3 811.5v-4M397.3 459v4M422.3 811.5v-4M422.3 459v4M472.3 811.5v-4M472.3 459v4M497.3 811.5v-4M497.3 459v4M522.3 811.5v-4M522.3 459v4M547.3 811.5v-4M547.3 459v4M597.3 811.5v-4M597.3 459v4M622.3 811.5v-4M622.3 459v4M647.3 811.5v-4M647.3 459v4M98 776.5h8M672 776.5h-8M98 705.92h8M672 705.92h-8M98 635.35h8M672 635.35h-8M98 564.77h8M672 564.77h-8M98 494.2h8M672 494.2h-8M98 794.14h4M672 794.14h-4M98 758.86h4M672 758.86h-4M98 741.21h4M672 741.21h-4M98 723.57h4M672 723.57h-4M98 688.28h4M672 688.28h-4M98 670.64h4M672 670.64h-4M98 652.99h4M672 652.99h-4M98 617.71h4M672 617.71h-4M98 600.06h4M672 600.06h-4M98 582.42h4M672 582.42h-4M98 547.13h4M672 547.13h-4M98 529.49h4M672 529.49h-4M98 511.84h4M672 511.84h-4M98 476.56h4M672 476.56h-4" stroke="#000" stroke-width="2.0" fill="none"/>
<rect x="98" y="459" width="574" height="352.5" stroke="#000" stroke-width="2.0" fill="none"/>
<path d="M121 1201.7v-8M121 892v8M208.44 1201.7v-8M208.44 892v8M295.88 1201.7v-8M295.88 892v8M383.32 1201.7v-8M383.32 892v8M470.76 1201.7v-8M470.76 892v8M558.2 1201.7v-8M558.2 892v8M645.64 1201.7v-8M645.64 892v8M99.14 1201.7v-4M99.14 892v4M142.86 1201.7v-4M142.86 892v4M164.72 1201.7v-4M164.72 892v4M186.58 1201.7v-4M186.58 892v4M230.3 1201.7v-4M230.3 892v4M252.16 1201.7v-4M252.16 892v4M274.02 1201.7v-4M274.02 892v4M317.74 1201.7v-4M317.74 892v4M339.6 1201.7v-4M339.6 892v4M361.46 1201.7v-4M361.46 892v4M405.18 1201.7v-4M405.18 892v4M427.04 1201.7v-4M427.04 892v4M448.9 1201.7v-4M448.9 892v4M492.62 1201.7v-4M492.62 892v4M514.48 1201.7v-4M514.48 892v4M536.34 1201.7v-4M536.34 892v4M580.06 1201.7v-4M580.06 892v4M601.92 1201.7v-4M601.92 892v4M623.78 1201.7v-4M623.78 892v4M78 1185.4h8M667.5 1185.4h-8M78 1103.85h8M667.5 1103.85h-8M78 1022.3h8M667.5 1022.3h-8M78 940.75h8M667.5 940.75h-8M78 1169.09h4M667.5 1169.09h-4M78 1152.78h4M667.5 1152.78h-4M78 1136.47h4M667.5 1136.47h-4M78 1120.16h4M667.5 1120.16h-4M78 1087.54h4M667.5 1087.54h-4M78 1071.23h4M667.5 1071.23h-4M78 1054.92h4M667.5 1054.92h-4M78 1038.61h4M667.5 1038.61h-4M78 1005.99h4M667.5 1005.99h-4M78 989.68h4M667.5 989.68h-4M78 973.37h4M667.5 973.37h-4M78 957.06h4M667.5 957.06h-4M78 924.44h4M667.5 924.44h-4M78 908.13h4M667.5 908.13h-4" stroke="#000" stroke-width="2.0" fill="none"/>
<rect x="78" y="892" width="589.5" height="309.7" stroke="#000" stroke-width="2.0" fill="none"/>
</svg>
</body></html>
